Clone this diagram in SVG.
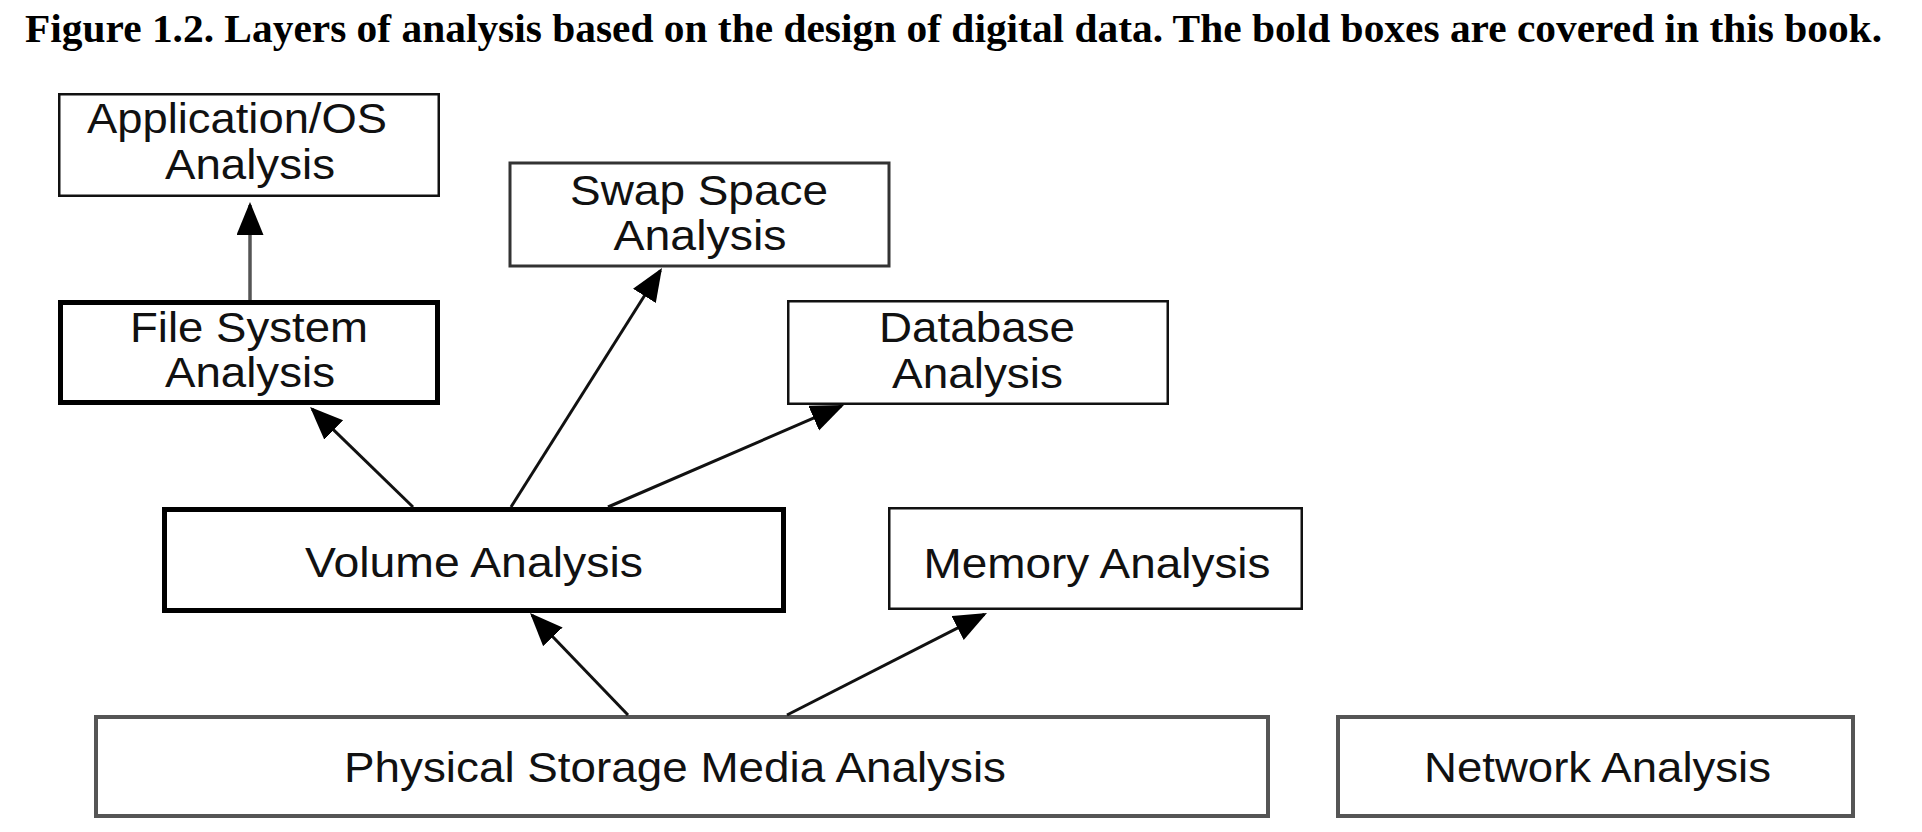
<svg xmlns="http://www.w3.org/2000/svg" width="1922" height="832" viewBox="0 0 1922 832">
<style>
.title{font-family:"Liberation Serif","Times New Roman",serif;font-weight:bold;font-size:39px;fill:#000}
.lbl{font-family:"Liberation Sans",Arial,Helvetica,sans-serif;font-size:43px;fill:#111;text-anchor:middle}
.thin{fill:#fff;stroke:#111;stroke-width:2.5}
.bold{fill:#fff;stroke:#000;stroke-width:5}
.gray{fill:#fff;stroke:#555;stroke-width:4}
.conn{stroke:#111;stroke-width:3;fill:none;marker-end:url(#arr)}
</style>
<defs>
<marker id="arr" markerUnits="userSpaceOnUse" markerWidth="34" markerHeight="28" refX="30" refY="13.5" orient="auto">
<path d="M0,0 L33,13.5 L0,27 z" fill="#000"/>
</marker>
</defs>
<rect width="1922" height="832" fill="#fff"/>
<text class="title" x="25" y="42" textLength="1857" lengthAdjust="spacingAndGlyphs">Figure 1.2. Layers of analysis based on the design of digital data. The bold boxes are covered in this book.</text>
<g id="app">
<rect class="thin" x="59.25" y="94.25" width="379.5" height="101.5"/>
<text class="lbl" x="237" y="133" textLength="300" lengthAdjust="spacingAndGlyphs">Application/OS</text>
<text class="lbl" x="250" y="179" textLength="170" lengthAdjust="spacingAndGlyphs">Analysis</text>
</g>
<g id="fs">
<rect class="bold" x="60.5" y="302.5" width="377" height="100"/>
<text class="lbl" x="249" y="342" textLength="238" lengthAdjust="spacingAndGlyphs">File System</text>
<text class="lbl" x="250" y="387" textLength="170" lengthAdjust="spacingAndGlyphs">Analysis</text>
</g>
<g id="swap">
<rect class="thin" x="510" y="163" width="379" height="103" style="stroke:#333;stroke-width:3"/>
<text class="lbl" x="699" y="205" textLength="258" lengthAdjust="spacingAndGlyphs">Swap Space</text>
<text class="lbl" x="700" y="250" textLength="173" lengthAdjust="spacingAndGlyphs">Analysis</text>
</g>
<g id="db">
<rect class="thin" x="788.25" y="301.25" width="379.5" height="102.5"/>
<text class="lbl" x="977" y="342" textLength="196" lengthAdjust="spacingAndGlyphs">Database</text>
<text class="lbl" x="977.5" y="388" textLength="171" lengthAdjust="spacingAndGlyphs">Analysis</text>
</g>
<g id="volume">
<rect class="bold" x="164.5" y="509.5" width="619" height="101"/>
<text class="lbl" x="474" y="577" textLength="338" lengthAdjust="spacingAndGlyphs">Volume Analysis</text>
</g>
<g id="memory">
<rect class="thin" x="889.25" y="508.25" width="412.5" height="100.5"/>
<text class="lbl" x="1097" y="578" textLength="347" lengthAdjust="spacingAndGlyphs">Memory Analysis</text>
</g>
<g id="physical">
<rect class="gray" x="96" y="717" width="1172" height="99"/>
<text class="lbl" x="675" y="782" textLength="662" lengthAdjust="spacingAndGlyphs">Physical Storage Media Analysis</text>
</g>
<g id="network">
<rect class="gray" x="1338" y="717" width="515" height="99"/>
<text class="lbl" x="1597.5" y="782" textLength="347" lengthAdjust="spacingAndGlyphs">Network Analysis</text>
</g>
<g id="connectors">
<line class="conn" x1="250" y1="300" x2="250" y2="205" style="stroke:#555;stroke-width:3.5"/>
<line class="conn" x1="413" y1="507" x2="312.2" y2="409.1"/>
<line class="conn" x1="511" y1="507" x2="660.4" y2="270.5"/>
<line class="conn" x1="608" y1="507" x2="841.2" y2="406.2"/>
<line class="conn" x1="628" y1="715" x2="532.1" y2="615.2"/>
<line class="conn" x1="787" y1="715" x2="984.3" y2="614.4"/>
</g>
</svg>
